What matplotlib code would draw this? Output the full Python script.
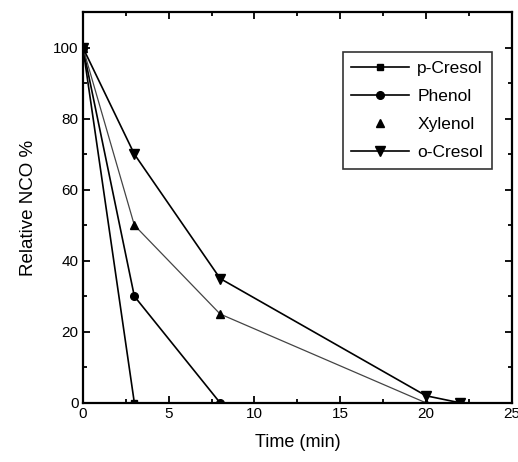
import matplotlib
matplotlib.use('Agg')
import matplotlib.pyplot as plt
from matplotlib.ticker import MultipleLocator

plt.rcParams['font.family'] = ['Liberation Sans', 'DejaVu Sans']

# time (min) vs relative NCO %
p_cresol_t = [0, 3]
p_cresol_y = [100, 0]
phenol_t = [0, 3, 8]
phenol_y = [100, 30, 0]
xylenol_t = [0, 3, 8, 20]
xylenol_y = [100, 50, 25, 0]
o_cresol_t = [0, 3, 8, 20, 22]
o_cresol_y = [100, 70, 35, 2, 0]

fig = plt.figure(figsize=(5.18, 4.62), dpi=100)
ax = fig.add_axes([0.160, 0.128, 0.828, 0.846])

ax.plot(p_cresol_t, p_cresol_y, '-s', color='black', lw=1.2, ms=5, label='p-Cresol')
ax.plot(phenol_t, phenol_y, '-o', color='black', lw=1.2, ms=5.5, label='Phenol')
# xylenol: thin grey line, legend shows marker only
ax.plot(xylenol_t, xylenol_y, '-', color='#444444', lw=0.9)
ax.plot(xylenol_t, xylenol_y, ls='none', marker='^', color='black', ms=6, label='Xylenol')
ax.plot(o_cresol_t, o_cresol_y, '-v', color='black', lw=1.2, ms=6.5, label='o-Cresol')

ax.set_xlim(0, 25)
ax.set_ylim(0, 110)
ax.xaxis.set_major_locator(MultipleLocator(5))
ax.xaxis.set_minor_locator(MultipleLocator(2.5))
ax.yaxis.set_minor_locator(MultipleLocator(10))
ax.set_yticks([0, 20, 40, 60, 80, 100])
ax.tick_params(which='both', direction='in', top=True, right=True, width=1.3)
ax.tick_params(which='major', length=5, labelsize=11, pad=3)
ax.tick_params(which='minor', length=3)
for side in ax.spines.values():
    side.set_linewidth(1.6)

ax.set_xlabel('Time (min)', fontsize=13, labelpad=9)
ax.set_ylabel('Relative NCO %', fontsize=13.5, labelpad=12)

leg = ax.legend(loc='upper right', bbox_to_anchor=(0.953, 0.898), borderaxespad=0,
                fontsize=12.5, frameon=True, fancybox=False, edgecolor='black',
                handlelength=3.3, handletextpad=0.5, borderpad=0.5, labelspacing=0.75)
leg.get_frame().set_linewidth(1.2)

fig.savefig('out.png', dpi=100)
